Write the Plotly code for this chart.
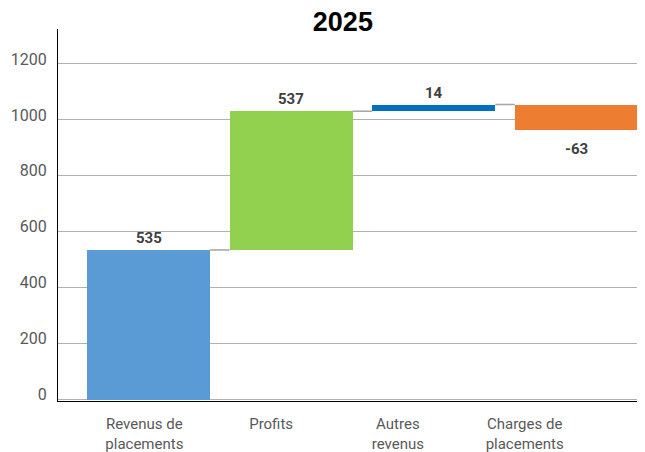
import plotly.graph_objects as go

# ---- data ----
categories = ["Revenus de<br>placements", "Profits", "Autres<br>revenus", "Charges de<br>placements"]
drawn_values = [535, 496, 24, -90]          # bar heights as drawn
label_texts = ["535", "537", "14", "-63"]    # printed data labels
bar_colors = ["#5B9BD5", "#92D050", "#0070C0", "#ED7D31"]
y_tick_vals = [0, 200, 400, 600, 800, 1000, 1200]

# ---- derived ----
positions = list(range(len(categories)))
bases, cum = [], []
running = 0
for v in drawn_values:
    bases.append(running)
    running += v
    cum.append(running)

bar_w = 0.863

fig = go.Figure()
fig.add_trace(go.Bar(
    x=positions, y=drawn_values, base=bases, width=bar_w,
    marker=dict(color=bar_colors, line=dict(width=0)),
    showlegend=False, hoverinfo="skip", xaxis="x", yaxis="y",
))

# connectors
cx, cy = [], []
for i in range(len(positions) - 1):
    cx += [positions[i] + bar_w / 2, positions[i + 1] - bar_w / 2, None]
    cy += [cum[i], cum[i], None]
fig.add_trace(go.Scatter(
    x=cx, y=cy, mode="lines", line=dict(color="#a8a8a8", width=1.6),
    showlegend=False, hoverinfo="skip", xaxis="x", yaxis="y",
))

# dummy trace for label axis
fig.add_trace(go.Scatter(
    x=positions, y=[0] * len(positions), mode="markers",
    marker=dict(opacity=0), showlegend=False, hoverinfo="skip",
    xaxis="x2", yaxis="y",
))

annotations = []
for i, (v, b, t) in enumerate(zip(drawn_values, bases, label_texts)):
    if v >= 0:
        yv, ys = b + v, 12
    else:
        yv, ys = b + v, -19
    annotations.append(dict(
        x=positions[i], y=yv, xref="x", yref="y", text="<b>%s</b>" % t,
        showarrow=False, yshift=ys, yanchor="middle",
        font=dict(family="Roboto", size=15, color="#404040"),
    ))

W, H = 637, 444  # page body has an 8px offset
fig.update_layout(
    width=W, height=H,
    margin=dict(l=50, r=8, t=21, b=51, autoexpand=False),
    paper_bgcolor="white", plot_bgcolor="white",
    title=dict(text="<b>2025</b>", x=0.492, xref="paper", xanchor="center",
               y=1 - 13.7 / H, yref="container", yanchor="middle",
               font=dict(family="Liberation Sans", size=27, color="#000000")),
    xaxis=dict(range=[-0.635, 3.426], showticklabels=False, showgrid=False,
               zeroline=False, showline=True, linecolor="#000000", linewidth=1.2,
               ticks="", automargin=False),
    xaxis2=dict(overlaying="x", anchor="y", side="bottom",
                range=[-0.681, 3.886], tickvals=positions, ticktext=categories,
                showgrid=False, zeroline=False, showline=False, ticks="",
                tickfont=dict(family="Roboto", size=15, color="#595959"),
                ticklabelstandoff=12, automargin=False),
    yaxis=dict(range=[-5, 1325], tickvals=y_tick_vals, showgrid=True,
               gridcolor="#b0b0b0", gridwidth=1.3, zeroline=False,
               showline=True, linecolor="#000000", linewidth=1.2, ticks="",
               tickfont=dict(family="Roboto", size=16, color="#595959"),
               ticklabelstandoff=7, ticklabelshift=-5, automargin=False),
    annotations=annotations,
    bargap=0,
)

fig.write_html("out.html")
